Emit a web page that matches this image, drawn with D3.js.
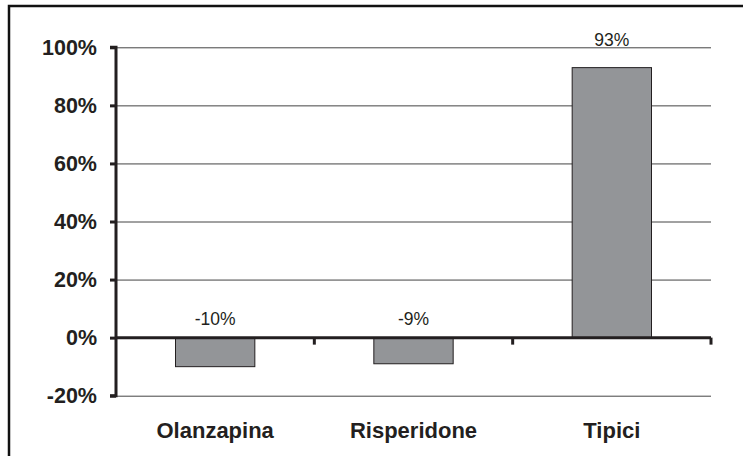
<!DOCTYPE html>
<html>
<head>
<meta charset="utf-8">
<script src="https://cdn.jsdelivr.net/npm/d3@7"></script>
<style>
  html, body { margin: 0; padding: 0; background: #fff; }
  svg { display: block; font-family: "Liberation Sans", Arial, sans-serif; }
</style>
</head>
<body>
<svg id="chart" width="743" height="456"></svg>
<script>
// dati del grafico
const categorie = ["Olanzapina", "Risperidone", "Tipici"];
const valori = [-10, -9, 93];
const etichette = ["-10%", "-9%", "93%"];
const tickY = [-20, 0, 20, 40, 60, 80, 100];

const svg = d3.select("#chart");
const margin = { top: 47.3, right: 32, bottom: 60.3, left: 116 };
const width = 743, height = 456;
const innerW = width - margin.left - margin.right;
const innerH = height - margin.top - margin.bottom;

// cornice esterna (solo lati superiore e sinistro visibili)
svg.append("rect")
    .attr("x", 9).attr("y", 6)
    .attr("width", 760).attr("height", 480)
    .attr("fill", "none")
    .attr("stroke", "#111")
    .attr("stroke-width", 2.5);

const g = svg.append("g").attr("transform", `translate(${margin.left},${margin.top})`);

const x = d3.scaleBand()
    .domain(categorie)
    .range([0, innerW])
    .paddingInner(0.6)
    .paddingOuter(0.3);

const y = d3.scaleLinear()
    .domain([-20, 100])
    .range([innerH, 0]);

// griglia
const grid = g.append("g").call(d3.axisLeft(y).tickValues(tickY).tickSize(-innerW).tickFormat(""));
grid.select(".domain").remove();
grid.selectAll(".tick line").attr("stroke", "#444").attr("stroke-width", 1);

// barre
g.selectAll(".barra")
    .data(valori)
    .enter().append("rect")
    .attr("class", "barra")
    .attr("x", (d, i) => x(categorie[i]))
    .attr("width", x.bandwidth())
    .attr("y", d => y(Math.max(0, d)))
    .attr("height", d => Math.abs(y(d) - y(0)))
    .attr("fill", "#939598")
    .attr("stroke", "#231f20")
    .attr("stroke-width", 1);

// asse y
const assey = g.append("g").call(d3.axisLeft(y).tickValues(tickY).tickSize(6).tickPadding(13).tickFormat(d => d + "%"));
assey.select(".domain").attr("stroke", "#231f20").attr("stroke-width", 3)
    .attr("d", `M-6,${y(100)}H0V${y(-20)}H-6`);
assey.selectAll(".tick line").attr("stroke", "#231f20").attr("stroke-width", 3);
assey.selectAll(".tick text")
    .attr("fill", "#231f20")
    .attr("font-size", "21.5px")
    .attr("font-weight", "bold")
    .attr("font-family", "Liberation Sans, Arial, sans-serif");

// asse x sullo zero
const bordi = categorie.map(c => x(c) + x.bandwidth() / 2 + x.step() / 2);
g.append("line")
    .attr("x1", 0).attr("x2", innerW)
    .attr("y1", y(0)).attr("y2", y(0))
    .attr("stroke", "#231f20").attr("stroke-width", 3);
g.selectAll(".tacca")
    .data(bordi)
    .enter().append("line")
    .attr("x1", d => d).attr("x2", d => d)
    .attr("y1", y(0)).attr("y2", y(0) + 7)
    .attr("stroke", "#231f20").attr("stroke-width", 3);

// etichette categorie
g.selectAll(".categoria")
    .data(categorie)
    .enter().append("text")
    .attr("x", d => x(d) + x.bandwidth() / 2)
    .attr("y", innerH + 42)
    .attr("text-anchor", "middle")
    .attr("fill", "#231f20")
    .attr("font-size", "22px")
    .attr("font-weight", "bold")
    .text(d => d);

// etichette valori
g.selectAll(".valore")
    .data(valori)
    .enter().append("text")
    .attr("x", (d, i) => x(categorie[i]) + x.bandwidth() / 2)
    .attr("y", d => d < 0 ? y(0) - 12.5 : y(d) - 22)
    .attr("text-anchor", "middle")
    .attr("fill", "#231f20")
    .attr("font-size", "17.5px")
    .text((d, i) => etichette[i]);
</script>
</body>
</html>
